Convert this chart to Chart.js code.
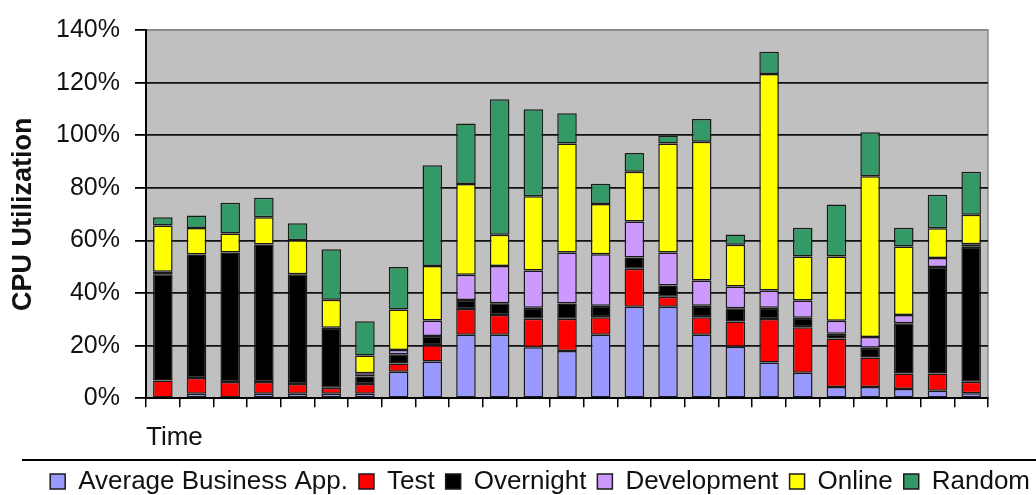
<!DOCTYPE html>
<html>
<head>
<meta charset="utf-8">
<title>CPU Utilization</title>
<script src="https://cdn.jsdelivr.net/npm/chart.js@4.4.1/dist/chart.umd.min.js"></script>
<style>
  html, body { margin: 0; padding: 0; background: #fff; }
  #wrap { width: 1036px; height: 495px; }
</style>
</head>
<body>
<div id="wrap"><canvas id="myChart" width="1036" height="495"></canvas></div>
<script>
// time periods (no labels shown on the axis)
let periods = ['1','2','3','4','5','6','7','8','9','10','11','12','13','14','15','16','17','18','19','20','21','22','23','24','25']

// % CPU per workload (bottom to top of each stack)
let avgBusiness = [0, 1.7, 0, 1.7, 1.7, 1.7, 1.7, 10.1, 14, 24.2, 24.2, 19.4, 18, 24.2, 34.8, 34.8, 24.2, 19.6, 13.6, 9.7, 4.3, 4.3, 3.5, 2.9, 1.9]
let test = [6.8, 6, 6.2, 4.5, 3.7, 2.3, 3.7, 3.1, 6.2, 9.7, 7.5, 10.8, 12.2, 6.6, 14.4, 3.8, 6.6, 9.6, 16.5, 17.3, 18.4, 11.2, 5.9, 6.5, 4.4]
let overnight = [40.4, 47, 49.2, 52.3, 41.8, 22.8, 2.9, 3.5, 3.5, 3.5, 4.4, 4.2, 5.8, 4.4, 4.3, 4.3, 4.4, 5, 4.3, 3.6, 1.8, 3.7, 19.1, 40.5, 51.3]
let development = [0.9, 0, 0, 0, 0, 0, 1.2, 1.7, 5.9, 9.6, 14.2, 14.2, 19.4, 19.6, 13.7, 12.5, 9.6, 8.3, 6.6, 6.6, 5, 4.1, 3.2, 3.4, 1]
let online = [17.6, 10, 7.2, 10.3, 12.9, 10.7, 6.8, 15.4, 20.7, 34.5, 11.9, 28.2, 41.5, 19.1, 18.9, 41.5, 52.7, 15.9, 82.3, 16.7, 24.4, 61.1, 26, 11.3, 11.2]
let random = [3.1, 4.8, 11.7, 7.4, 6.4, 19.2, 13, 16.1, 38.3, 23, 51.5, 33.1, 11.5, 7.7, 7.1, 2.9, 8.7, 3.9, 8.4, 10.9, 19.8, 16.7, 7.1, 12.8, 16.3]

let yTicks = [0, 20, 40, 60, 80, 100, 120, 140]

Chart.defaults.font.family = "'Liberation Sans', Arial, sans-serif"
Chart.defaults.color = '#111'

// grey plot background + the rule above the legend
const plotDecor = {
    id: 'plotDecor',
    beforeDraw(chart) {
        const {ctx, chartArea} = chart
        ctx.save()
        ctx.fillStyle = '#c0c0c0'
        ctx.fillRect(chartArea.left, chartArea.top, chartArea.right - chartArea.left, chartArea.bottom - chartArea.top)
        ctx.strokeStyle = '#8a8a8a'
        ctx.lineWidth = 1.5
        ctx.strokeRect(chartArea.left, chartArea.top, chartArea.right - chartArea.left, chartArea.bottom - chartArea.top)
        ctx.restore()
    },
    afterDraw(chart) {
        const ctx = chart.ctx
        ctx.save()
        ctx.strokeStyle = '#000'
        ctx.lineWidth = 2
        ctx.beginPath()
        ctx.moveTo(22, 460)
        ctx.lineTo(1036, 460)
        ctx.stroke()
        ctx.restore()
    }
}

function bars(label, values, color) {
    return {
        label: label,
        data: values,
        backgroundColor: color,
        borderColor: '#1a1a1a',
        borderWidth: 1.5,
        borderSkipped: false,
        barPercentage: 0.58,
        categoryPercentage: 1
    }
}

const ctx = document.getElementById('myChart')
const myChart = new Chart(ctx, {
    type: 'bar',
    data: {
        labels: periods,
        datasets: [
            bars('Average Business App.', avgBusiness, '#9999ff'),
            bars('Test', test, '#ff0000'),
            bars('Overnight', overnight, '#000000'),
            bars('Development', development, '#cc99ff'),
            bars('Online', online, '#ffff00'),
            bars('Random', random, '#339966')
        ]
    },
    plugins: [plotDecor],
    options: {
        responsive: false,
        animation: false,
        layout: { padding: { top: 22.7, right: -5, bottom: -9.5, left: 0 } },
        plugins: {
            tooltip: { enabled: false },
            legend: {
                position: 'bottom',
                align: 'end',
                labels: {
                    boxWidth: 15,
                    boxHeight: 15,
                    padding: 11,
                    color: '#111',
                    font: { size: 26 }
                }
            }
        },
        scales: {
            x: {
                stacked: true,
                grid: { offset: true, drawOnChartArea: false, drawTicks: true, tickLength: 9, color: '#000', lineWidth: 1.5 },
                border: { color: '#000', width: 2 },
                ticks: { display: false },
                title: { display: true, text: 'Time', align: 'start', font: { size: 26 }, padding: { top: 0, bottom: 4.5 } },
                afterFit(scale) { scale.height = 59.2 }
            },
            y: {
                stacked: true,
                min: 0,
                max: 140,
                afterBuildTicks(scale) { scale.ticks = yTicks.map(v => ({ value: v })) },
                grid: {
                    color: c => (c.tick && c.tick.value === 140) ? '#8a8a8a' : '#111',
                    tickColor: '#000',
                    lineWidth: 1.8,
                    tickLength: 11
                },
                border: { color: '#000', width: 2 },
                ticks: { padding: 15, font: { size: 25 }, color: '#111', callback: v => v + '%' },
                title: { display: true, text: 'CPU Utilization', font: { size: 27, weight: 'bold' }, padding: { top: 7, bottom: 0 } },
                afterFit(scale) { scale.width = 146 }
            },
            spare: {
                type: 'linear',
                position: 'right',
                display: true,
                grid: { display: false },
                border: { display: false },
                ticks: { display: false },
                afterFit(scale) { scale.width = 53 }
            }
        }
    }
})
</script>
</body>
</html>
